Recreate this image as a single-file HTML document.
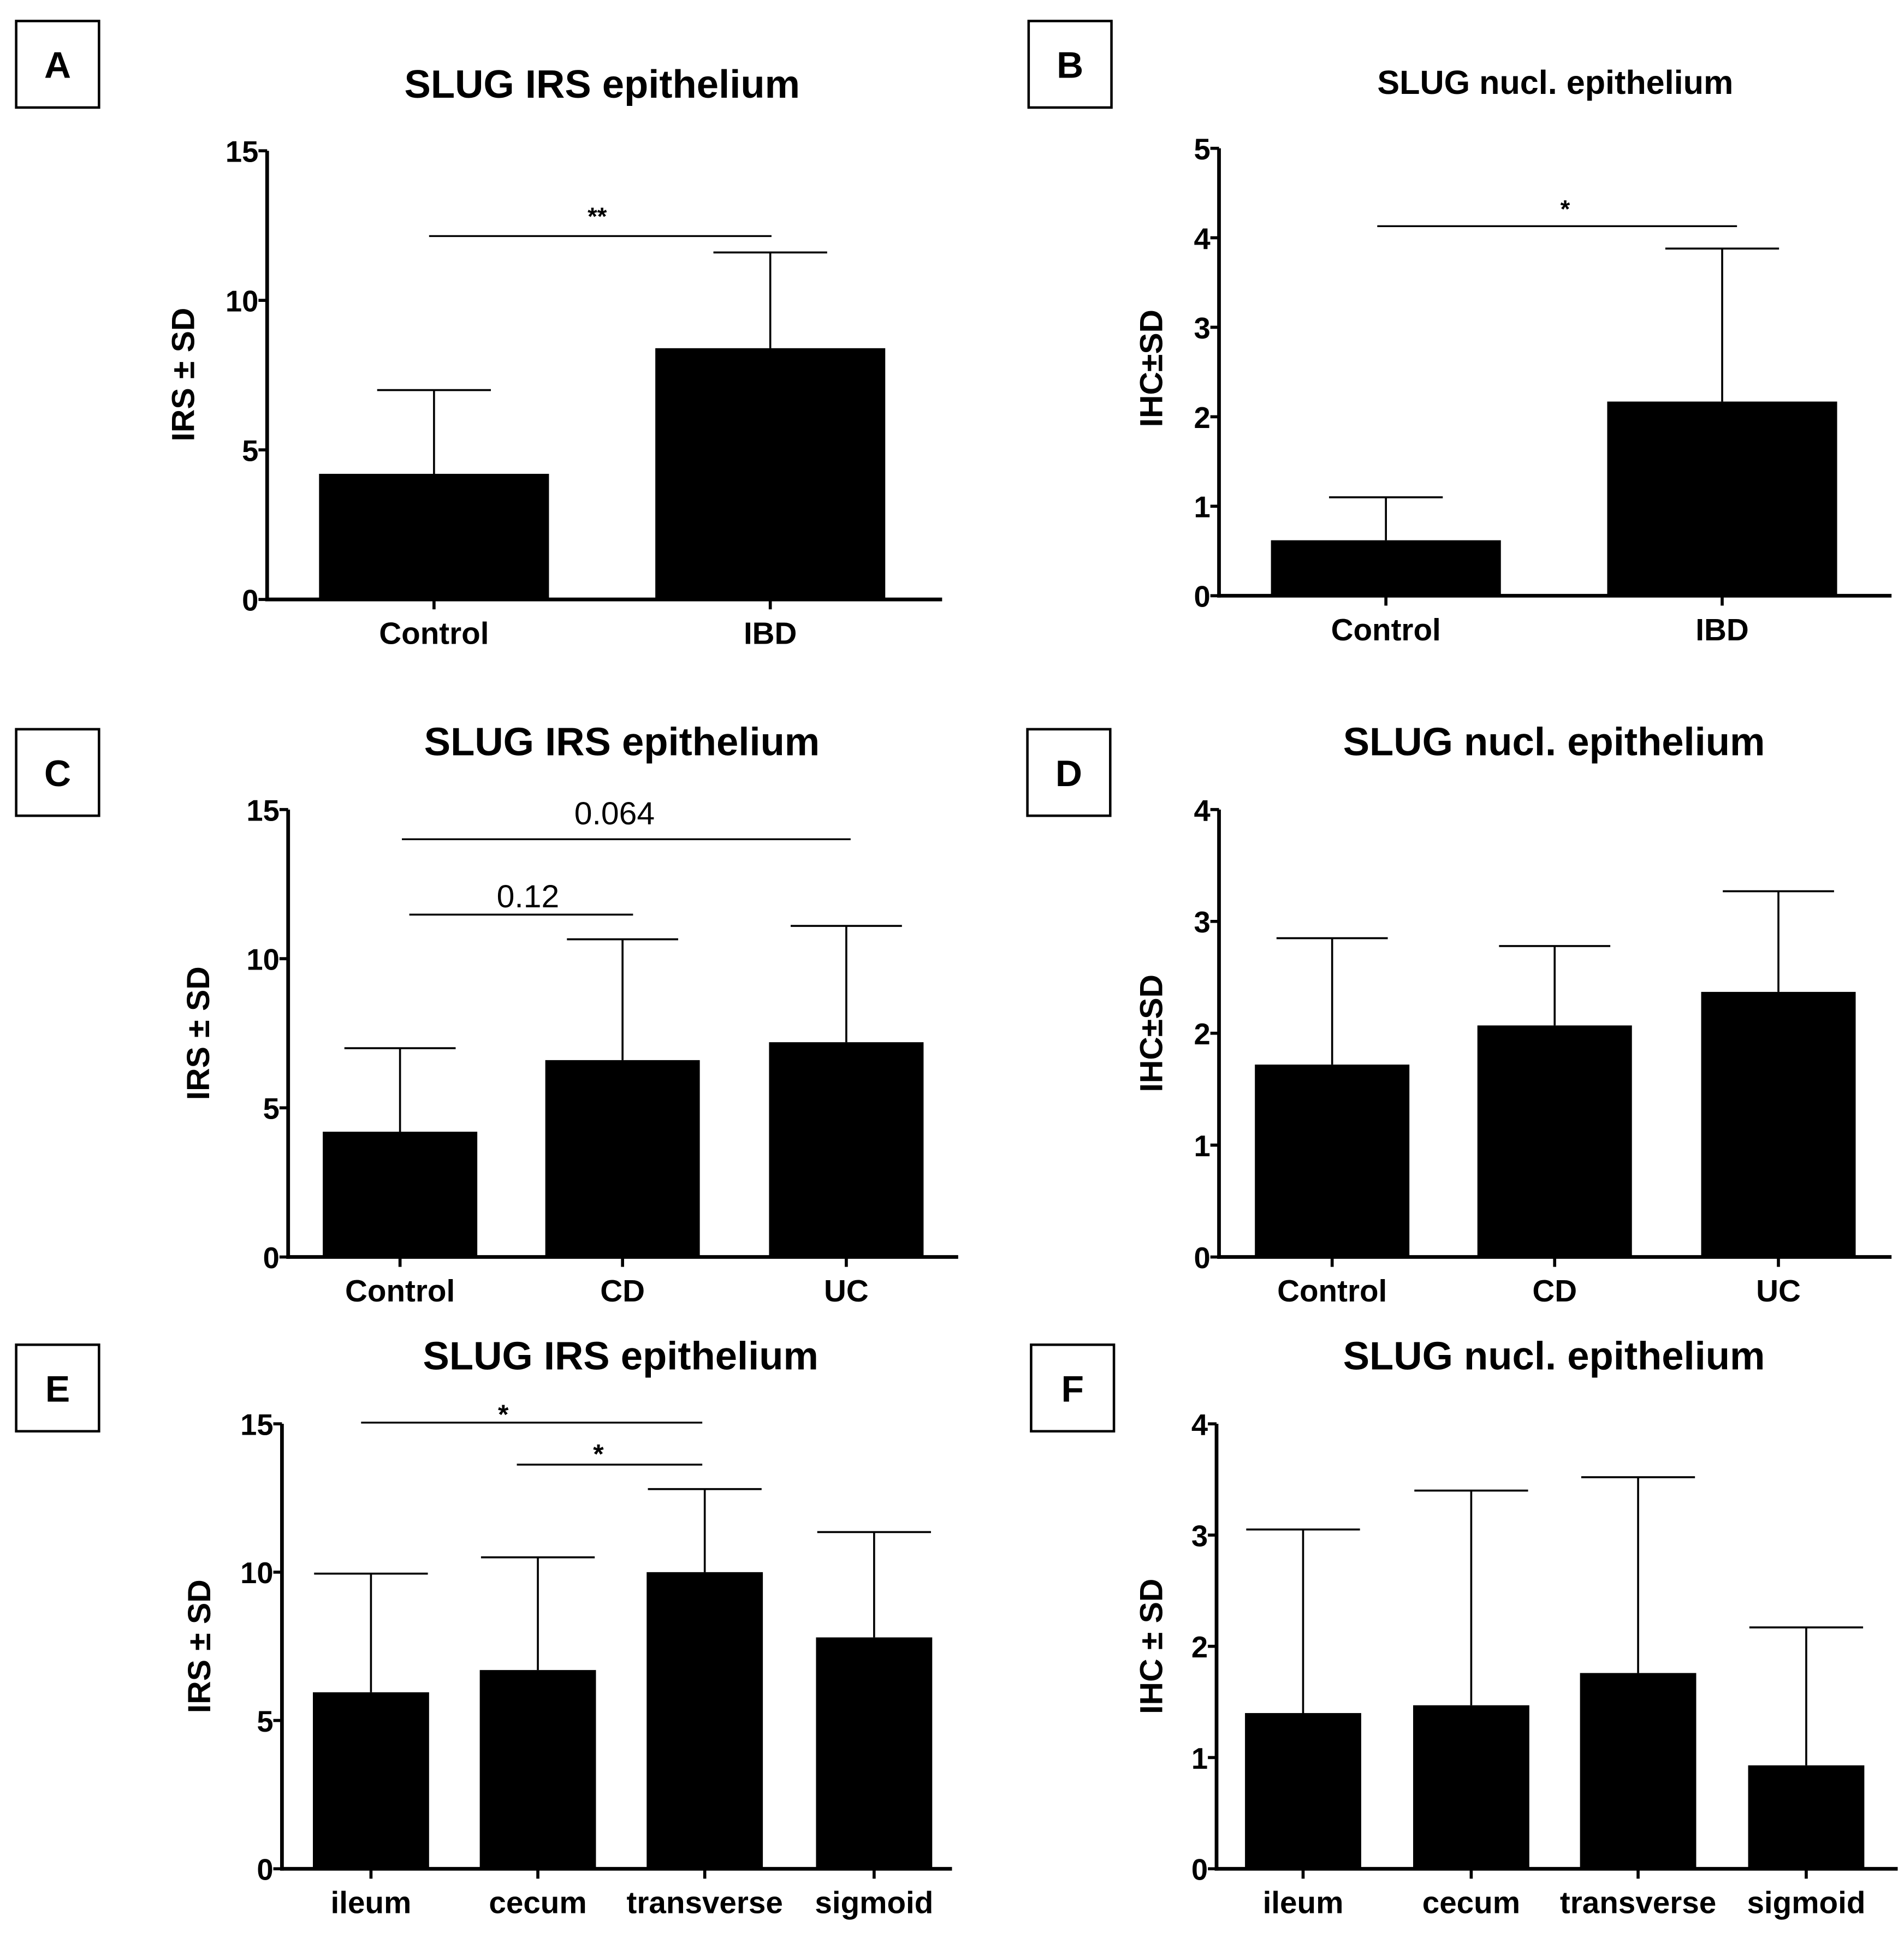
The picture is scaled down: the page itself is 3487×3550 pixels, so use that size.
<!DOCTYPE html>
<html><head><meta charset="utf-8">
<style>
html,body{margin:0;padding:0;background:#fff;}
svg{display:block;}
text{font-family:"Liberation Sans",sans-serif;font-weight:bold;fill:#000;}
text.normal{font-weight:normal;}
</style></head>
<body>
<svg id="fig" width="3487" height="3550" viewBox="0 0 1540 1568" xmlns="http://www.w3.org/2000/svg"></svg>
<script>
// Panel A
const catsA = ["Control","IBD"];
const valsA = [4.2, 8.4];
const errA = [7.0, 11.6];
const ticksA = [0,5,10,15];
// Panel B
const catsB = ["Control","IBD"];
const valsB = [0.62, 2.17];
const errB = [1.1, 3.88];
const ticksB = [0,1,2,3,4,5];
// Panel C
const catsC = ["Control","CD","UC"];
const valsC = [4.2, 6.6, 7.2];
const errC = [7.0, 10.65, 11.1];
const ticksC = [0,5,10,15];
// Panel D
const catsD = ["Control","CD","UC"];
const valsD = [1.72, 2.07, 2.37];
const errD = [2.85, 2.78, 3.27];
const ticksD = [0,1,2,3,4];
// Panel E
const catsE = ["ileum","cecum","transverse","sigmoid"];
const valsE = [5.95, 6.7, 10.0, 7.8];
const errE = [9.95, 10.5, 12.8, 11.35];
const ticksE = [0,5,10,15];
// Panel F
const catsF = ["ileum","cecum","transverse","sigmoid"];
const valsF = [1.4, 1.47, 1.76, 0.93];
const errF = [3.05, 3.4, 3.52, 2.17];
const ticksF = [0,1,2,3,4];

const NS = "http://www.w3.org/2000/svg";
const svg = document.getElementById('fig');
function mk(tag, attrs, parent){
  const e = document.createElementNS(NS, tag);
  for (const k in attrs) e.setAttribute(k, attrs[k]);
  (parent||svg).appendChild(e);
  return e;
}
function txt(s, x, y, size, parent, anchor){
  const t = mk('text', {x:x, y:y, 'font-size':size, 'text-anchor':anchor||'middle'}, parent);
  t.textContent = s;
  return t;
}

const panels = [
 {id:'a', letter:'A', box:[13,17], title:'SLUG IRS epithelium', tx:487, ty:79, tsize:32, ax:216, top:122, y0:485, xend:762, max:15,
  cats:catsA, vals:valsA, errs:errA, ticks:ticksA, bx:[258,530], bw:186, cap:46, ytitle:'IRS \u00b1 SD', ytx:157, yty:303,
  sig:[{x1:347,x2:624,y:191,label:'**',ly:182,ls:20,lx:483}]},
 {id:'b', letter:'B', box:[832,17], title:'SLUG nucl. epithelium', tx:1258, ty:76, tsize:27, ax:986, top:120, y0:482, xend:1530, max:5,
  cats:catsB, vals:valsB, errs:errB, ticks:ticksB, bx:[1028,1300], bw:186, cap:46, ytitle:'IHC\u00b1SD', ytx:940, yty:298,
  sig:[{x1:1114,x2:1405,y:183,label:'*',ly:176,ls:20,lx:1266}]},
 {id:'c', letter:'C', box:[13,590], title:'SLUG IRS epithelium', tx:503, ty:611, tsize:32, ax:233, top:655, y0:1017, xend:775, max:15,
  cats:catsC, vals:valsC, errs:errC, ticks:ticksC, bx:[261,441,622], bw:125, cap:45, ytitle:'IRS \u00b1 SD', ytx:169, yty:836,
  sig:[{x1:325,x2:688,y:679,label:'0.064',ly:667,ls:26,lx:497,normal:true},{x1:331,x2:512,y:740,label:'0.12',ly:734,ls:26,lx:427,normal:true}]},
 {id:'d', letter:'D', box:[831,590], title:'SLUG nucl.  epithelium', tx:1257, ty:611, tsize:32, ax:986, top:655, y0:1017, xend:1530, max:4,
  cats:catsD, vals:valsD, errs:errD, ticks:ticksD, bx:[1015,1195,1376], bw:125, cap:45, ytitle:'IHC\u00b1SD', ytx:940, yty:836, sig:[]},
 {id:'e', letter:'E', box:[13,1088], title:'SLUG IRS epithelium', tx:502, ty:1108, tsize:32, ax:228, top:1152, y0:1512, xend:770, max:15,
  cats:catsE, vals:valsE, errs:errE, ticks:ticksE, bx:[253,388,523,660], bw:94, cap:46, ytitle:'IRS \u00b1 SD', ytx:170, yty:1332,
  sig:[{x1:292,x2:568,y:1151,label:'*',ly:1152,ls:22,lx:407},{x1:418,x2:568,y:1185,label:'*',ly:1184,ls:22,lx:484}]},
 {id:'f', letter:'F', box:[834,1088], title:'SLUG nucl. epithelium', tx:1257, ty:1108, tsize:32, ax:984, top:1152, y0:1512, xend:1535, max:4,
  cats:catsF, vals:valsF, errs:errF, ticks:ticksF, bx:[1007,1143,1278,1414], bw:94, cap:46, ytitle:'IHC \u00b1 SD', ytx:940, yty:1332, sig:[]}
];

panels.forEach(p => {
  const g = mk('g', {});
  
  
  const y = v => p.y0 - (v / p.max) * (p.y0 - p.top);
  const lb = mk('rect', {x:p.box[0], y:p.box[1], width:67, height:70, fill:'#fff', stroke:'#000', 'stroke-width':2}, g);
  
  
  const lt = txt(p.letter, p.box[0]+33.5, p.box[1]+46, 30, g);
  
  
  const tt = txt(p.title, p.tx, p.ty, p.tsize, g);
  
  
  p.vals.forEach((v, i) => {
    const bx = p.bx[i], cx = bx + p.bw/2;
    const r = mk('rect', {x:bx, y:y(v), width:p.bw, height:p.y0 - y(v), fill:'#000'}, g);
    
    
    const e = mk('path', {d:`M${cx},${y(v)}V${y(p.errs[i])}M${cx-p.cap},${y(p.errs[i])}H${cx+p.cap}`, stroke:'#000', 'stroke-width':1.6, fill:'none'}, g);
    
    
    mk('line', {x1:cx, x2:cx, y1:p.y0, y2:p.y0+8, stroke:'#000', 'stroke-width':2.5}, g);
    const cl = txt(p.cats[i], cx, p.y0+36, 25, g);
    
    
  });
  const ya = mk('line', {x1:p.ax, x2:p.ax, y1:p.top, y2:p.y0+1.5, stroke:'#000', 'stroke-width':3}, g);
  
  
  const xa = mk('line', {x1:p.ax-1.5, x2:p.xend, y1:p.y0, y2:p.y0, stroke:'#000', 'stroke-width':3}, g);
  
  
  p.ticks.forEach(t => {
    mk('line', {x1:p.ax-7, x2:p.ax, y1:y(t), y2:y(t), stroke:'#000', 'stroke-width':2.5}, g);
    const tl = txt(String(t), p.ax-7, y(t)+9, 24, g, 'end');
    
    
  });
  const yt = txt(p.ytitle, 0, 0, 26, g);
  yt.setAttribute('transform', `translate(${p.ytx},${p.yty}) rotate(-90)`);
  
  
  p.sig.forEach((s, k) => {
    const sl = mk('line', {x1:s.x1, x2:s.x2, y1:s.y, y2:s.y, stroke:'#000', 'stroke-width':1.5}, g);
    
    
    const st = txt(s.label, s.lx, s.ly, s.ls, g);
    if (s.normal) st.setAttribute('class', 'normal');
    
    
  });
});
</script>
</body></html>
